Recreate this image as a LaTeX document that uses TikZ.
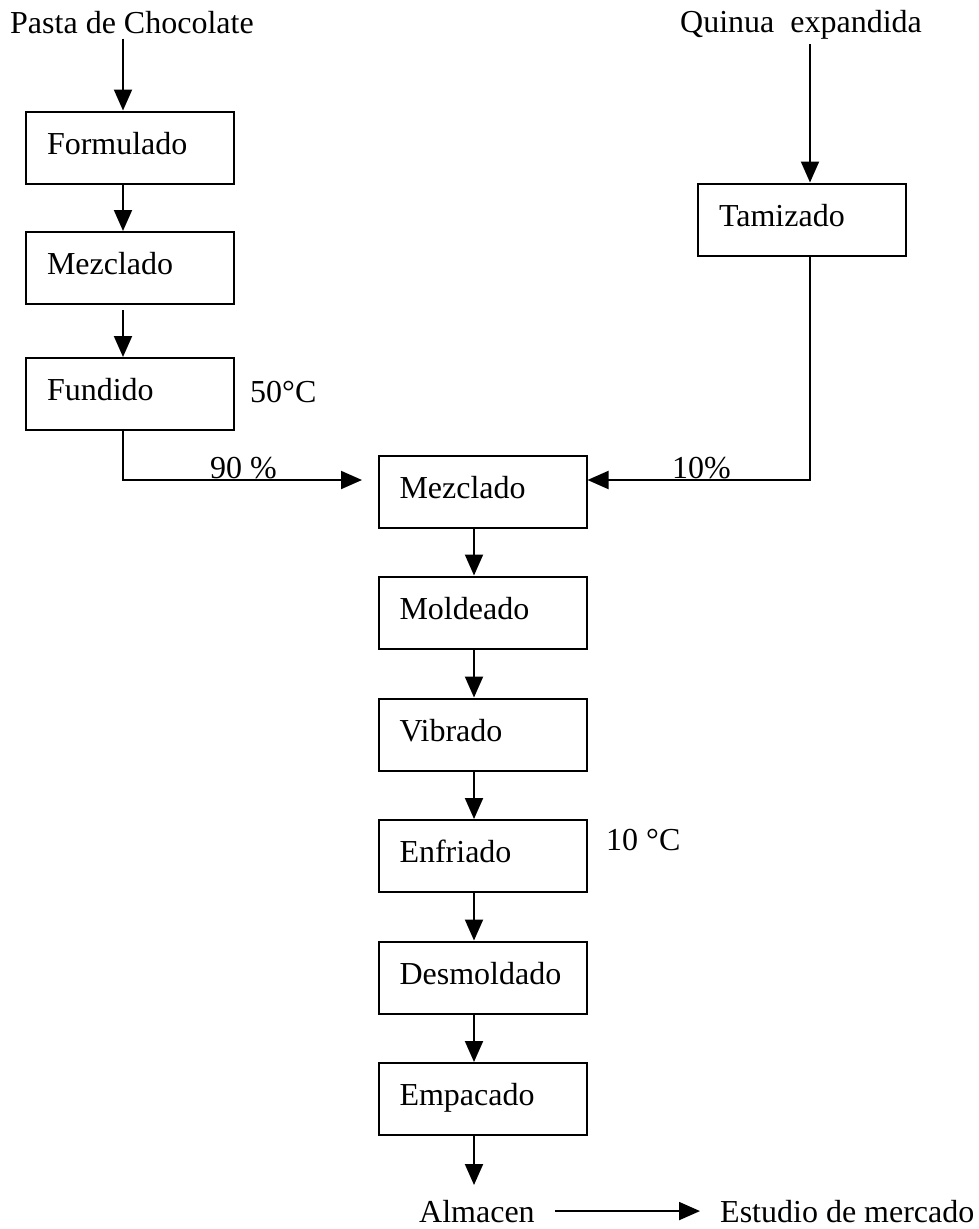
\documentclass[tikz,border=0pt]{standalone}
\usepackage{fontspec}
\setmainfont{Liberation Serif}
\usetikzlibrary{arrows.meta}
\begin{document}
\begin{tikzpicture}[x=1pt,y=-1pt,
  every node/.style={font=\fontsize{32}{38}\selectfont},
  box/.style={draw, line width=2pt, minimum width=208pt, minimum height=72pt,
    inner xsep=21pt, inner ysep=0pt, text width=166pt, align=left,
    text height=20pt, text depth=7pt},
  lbl/.style={inner sep=0pt, anchor=base west},
  arr/.style={line width=2pt, -{Triangle[length=21pt,width=18pt]}}]
\useasboundingbox (0,0) rectangle (978,1229);
% process boxes
\node[box] (form) at (130,147.5) {Formulado};
\node[box] (mez1) at (130,268) {Mezclado};
\node[box] (fund) at (130,394) {Fundido};
\node[box] (tam) at (802,219.5) {Tamizado};
\node[box] (mez2) at (482.5,491.5) {Mezclado};
\node[box] (mold) at (482.5,612.5) {Moldeado};
\node[box] (vib) at (482.5,734.5) {Vibrado};
\node[box] (enf) at (482.5,856) {Enfriado};
\node[box] (desm) at (482.5,977.5) {Desmoldado};
\node[box] (emp) at (482.5,1099) {Empacado};
% labels
\node[lbl] (pasta) at (10,33) {Pasta de Chocolate};
\node[lbl, anchor=base] (quin) at (801,32) {Quinua\ \ expandida};
\node[lbl] (t50) at (250,402) {50°C};
\node[lbl] (p90) at (210,478) {90 \%};
\node[lbl] (p10) at (672,478) {10\%};
\node[lbl] (t10) at (606,850) {10 °C};
\node[lbl] (alm) at (419,1222) {Almacen};
\node[lbl] (est) at (720,1222) {Estudio de mercado};
% helper coordinates
\coordinate (cl) at (123,0);
\coordinate (cr) at (810,0);
\coordinate (cc) at (474,0);
\coordinate (jy) at (0,480);
\coordinate (jl) at (362,480);
\coordinate (fin) at (474,1185);
% connectors
\draw[arr, shorten <=5pt] (pasta.south -| cl) -- (form.north -| cl);
\draw[arr] (form.south -| cl) -- (mez1.north -| cl);
\draw[arr, shorten <=5pt] (mez1.south -| cl) -- (fund.north -| cl);
\draw[arr] (fund.south -| cl) |- (jl);
\draw[arr, shorten <=5pt] (quin.south -| cr) -- (tam.north -| cr);
\draw[arr] (tam.south -| cr) |- (mez2.east |- jy);
\draw[arr] (mez2.south -| cc) -- (mold.north -| cc);
\draw[arr] (mold.south -| cc) -- (vib.north -| cc);
\draw[arr] (vib.south -| cc) -- (enf.north -| cc);
\draw[arr] (enf.south -| cc) -- (desm.north -| cc);
\draw[arr] (desm.south -| cc) -- (emp.north -| cc);
\draw[arr] (emp.south -| cc) -- (fin);
\draw[arr, shorten <=20pt, shorten >=20pt] (alm.east) -- (est.west);
\end{tikzpicture}
\end{document}
